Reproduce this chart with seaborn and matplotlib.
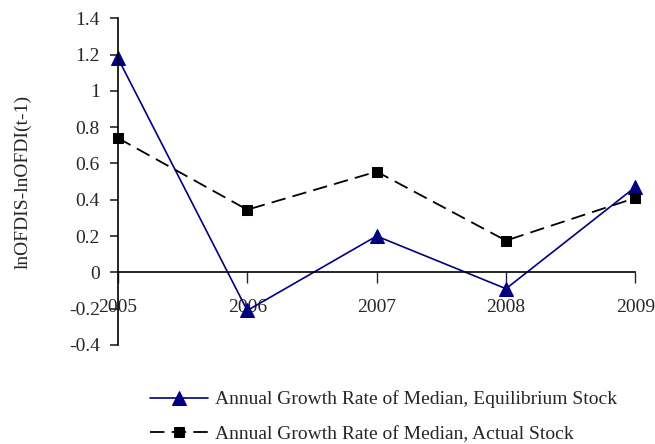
import matplotlib
matplotlib.use("Agg")
import matplotlib.pyplot as plt
import seaborn as sns
import pandas as pd

years = [2005, 2006, 2007, 2008, 2009]
equilibrium = [1.18, -0.21, 0.20, -0.09, 0.47]
actual = [0.74, 0.345, 0.555, 0.175, 0.41]
label_eq = "Annual Growth Rate of Median, Equilibrium Stock"
label_act = "Annual Growth Rate of Median, Actual Stock"
y_ticks = [-0.4, -0.2, 0, 0.2, 0.4, 0.6, 0.8, 1, 1.2, 1.4]
y_label = "lnOFDIS-lnOFDI(t-1)"

sns.set_style("white")
plt.rcParams['font.family'] = ['Liberation Serif', 'DejaVu Serif']

fig = plt.figure(figsize=(6.55, 4.44), dpi=100)
ax = fig.add_axes([0.18, 0.223, 0.790, 0.736])

df_eq = pd.DataFrame({"year": years, "value": equilibrium})
df_act = pd.DataFrame({"year": years, "value": actual})

sns.lineplot(data=df_eq, x="year", y="value", ax=ax, color="#000080",
             linewidth=1.2, marker="^", markersize=9.5, markeredgecolor="#000080",
             label=label_eq, clip_on=False)
sns.lineplot(data=df_act, x="year", y="value", ax=ax, color="black",
             linewidth=1.3, marker="s", markersize=7.5, markeredgecolor="black",
             linestyle=(0, (8, 4)), label=label_act, clip_on=False)

ax.set_xlim(2005, 2009)
ax.set_ylim(-0.4, 1.4)
ax.set_yticks(y_ticks)
ax.set_yticklabels([f"{t:g}" for t in y_ticks])
ax.set_xticks(years)
ax.set_xticklabels([str(y) for y in years])

for s in ["top", "right"]:
    ax.spines[s].set_visible(False)
ax.spines["bottom"].set_position(("data", 0))
for s in ["left", "bottom"]:
    ax.spines[s].set_color("black")
    ax.spines[s].set_linewidth(1.2)

ax.tick_params(axis="y", direction="out", length=6, width=1.2, labelsize=14, pad=7, left=True)
ax.tick_params(axis="x", direction="out", length=8, width=1.0, labelsize=14, pad=11, bottom=True)
ax.set_xlabel("")
ax.set_ylabel(y_label, fontsize=14)
ax.yaxis.set_label_coords(-0.166, 0.5)

leg = ax.legend(loc="upper left", bbox_to_anchor=(0.028, -0.086), frameon=False,
                fontsize=14, handlelength=3.0, handletextpad=0.36, labelspacing=0.85)

fig.savefig("out.png", dpi=100)
